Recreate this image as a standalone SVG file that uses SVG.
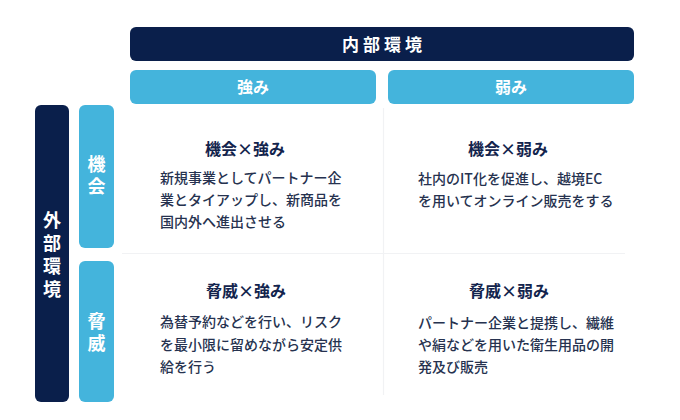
<svg xmlns="http://www.w3.org/2000/svg" width="680" height="420" viewBox="0 0 680 420">
<style>
.navy{fill:#0a1f4b}
.blue{fill:#44b4dc}
.hd{font-family:"Noto Sans CJK JP","Noto Sans",sans-serif;font-weight:700;fill:#fff;text-anchor:middle}
.vt{writing-mode:vertical-rl;text-orientation:upright}
.tt{font-family:"Noto Sans CJK JP","Noto Sans",sans-serif;font-weight:700;font-size:16px;fill:#13244d;text-anchor:middle}
.bd{font-family:"Noto Sans CJK JP","Noto Sans",sans-serif;font-weight:500;font-size:14px;fill:#26324f}
.div{stroke:#f1f2f4;stroke-width:1.2;fill:none}
</style>
<rect width="680" height="420" fill="#fff"/>
<g id="connectors">
<line class="div" x1="383.5" y1="108" x2="383.5" y2="395"/>
<line class="div" x1="122" y1="253.5" x2="625" y2="253.5"/>
</g>
<g id="internal">
<rect class="navy" x="130" y="27" width="504" height="34" rx="6"/>
<text class="hd" x="384" y="51" font-size="17" letter-spacing="4">内部環境</text>
</g>
<g id="strength">
<rect class="blue" x="130" y="70" width="246" height="34" rx="6"/>
<text class="hd" x="253" y="93" font-size="16">強み</text>
</g>
<g id="weakness">
<rect class="blue" x="388" y="70" width="246" height="34" rx="6"/>
<text class="hd" x="511" y="93" font-size="16">弱み</text>
</g>
<g id="external">
<rect class="navy" x="35" y="105" width="34" height="297" rx="6"/>
<text class="hd vt" x="52" y="257" font-size="18" letter-spacing="5">外部環境</text>
</g>
<g id="opportunity">
<rect class="blue" x="79" y="105" width="35" height="143" rx="6"/>
<text class="hd vt" x="96.5" y="177" font-size="18" letter-spacing="4">機会</text>
</g>
<g id="threat">
<rect class="blue" x="79" y="261" width="35" height="141" rx="6"/>
<text class="hd vt" x="96.5" y="334" font-size="18" letter-spacing="4">脅威</text>
</g>
<g id="so">
<text class="tt" x="245" y="155">機会×強み</text>
<text class="bd"><tspan x="160" y="183">新規事業としてパートナー企</tspan><tspan x="160" y="205">業とタイアップし、新商品を</tspan><tspan x="160" y="227">国内外へ進出させる</tspan></text>
</g>
<g id="wo">
<text class="tt" x="508" y="155">機会×弱み</text>
<text class="bd"><tspan x="418" y="184">社内のIT化を促進し、越境EC</tspan><tspan x="418" y="206">を用いてオンライン販売をする</tspan></text>
</g>
<g id="st">
<text class="tt" x="246" y="297">脅威×強み</text>
<text class="bd"><tspan x="160" y="327">為替予約などを行い、リスク</tspan><tspan x="160" y="350">を最小限に留めながら安定供</tspan><tspan x="160" y="372">給を行う</tspan></text>
</g>
<g id="wt">
<text class="tt" x="509" y="297">脅威×弱み</text>
<text class="bd"><tspan x="418" y="328">パートナー企業と提携し、繊維</tspan><tspan x="418" y="350">や絹などを用いた衛生用品の開</tspan><tspan x="418" y="372">発及び販売</tspan></text>
</g>
</svg>
